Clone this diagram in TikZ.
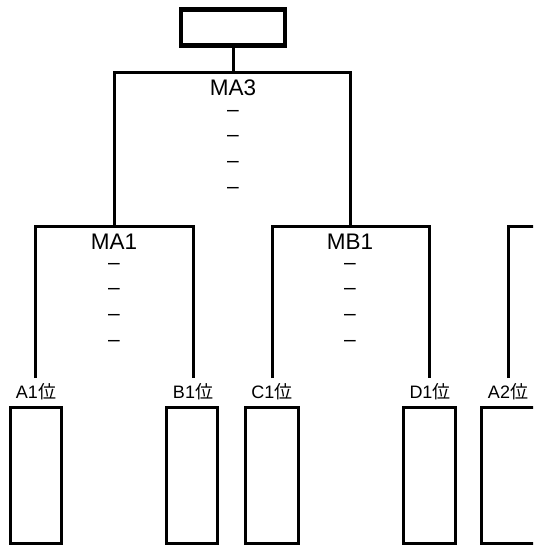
\documentclass[tikz,border=0pt]{standalone}
\usepackage{fontspec}
\setmainfont{Liberation Sans}
\newfontfamily\jpfont{Noto Sans CJK JP}
\begin{document}
\begin{tikzpicture}[x=1pt,y=-1pt,
  line/.style={line width=3pt},
  topbox/.style={draw,line width=4.5pt,minimum width=104pt,minimum height=36pt,inner sep=0pt},
  slot/.style={draw,line width=3pt,minimum height=136pt,inner sep=0pt},
  matchlbl/.style={font=\fontsize{22.5}{26}\selectfont,inner sep=0pt,anchor=base},
  dashes/.style={font=\fontsize{21}{25.7}\selectfont,inner sep=0pt,anchor=north,align=center},
  poslbl/.style={font=\fontsize{18}{20}\selectfont,inner sep=0pt}]
\useasboundingbox (0,0) rectangle (533,546);
\clip (0,0) rectangle (533,546);
% top box
\node[topbox] (top) at (233,27.5) {};
% level coordinates
\coordinate (j3) at (233,72);
\coordinate (l3) at (114,72);
\coordinate (r3) at (350,72);
\coordinate (ma1top) at (114,226);
\coordinate (mb1top) at (350,226);
\coordinate (ma1l) at (35,226);
\coordinate (ma1r) at (193,226);
\coordinate (mb1l) at (272,226);
\coordinate (mb1r) at (429,226);
\coordinate (xr) at (508,226);
\coordinate (xe) at (545,226);
\coordinate (a1e) at (35,378);
\coordinate (b1e) at (193,378);
\coordinate (c1e) at (272,378);
\coordinate (d1e) at (429,378);
\coordinate (a2e) at (508,378);
% connectors
\draw[line] (top.south) -- (j3);
\draw[line,line join=miter] (ma1top) -- (l3) -- (r3) -- (mb1top);
\draw[line,line join=miter] (a1e) -- (ma1l) -- (ma1r) -- (b1e);
\draw[line,line join=miter] (c1e) -- (mb1l) -- (mb1r) -- (d1e);
\draw[line,line join=miter] (a2e) -- (xr) -- (xe);
% match labels
\node[matchlbl] (ma3) at (233,95.5) {MA3};
\node[dashes] (ma3d) at (233,110) {–\\–\\–\\–};
\node[matchlbl] (ma1) at (114,249.5) {MA1};
\node[dashes] (ma1d) at (114,263) {–\\–\\–\\–};
\node[matchlbl] (mb1) at (350,249.5) {MB1};
\node[dashes] (mb1d) at (350,263) {–\\–\\–\\–};
% position labels
\node[poslbl] (a1l) at (36,392) {A1{\jpfont 位}};
\node[poslbl] (b1l) at (193,392) {B1{\jpfont 位}};
\node[poslbl] (c1l) at (272,392) {C1{\jpfont 位}};
\node[poslbl] (d1l) at (430,392) {D1{\jpfont 位}};
\node[poslbl] (a2l) at (508,392) {A2{\jpfont 位}};
% slots
\node[slot,minimum width=51pt] (a1) at (36,475) {};
\node[slot,minimum width=51pt] (b1) at (192,475) {};
\node[slot,minimum width=53pt] (c1) at (272,475) {};
\node[slot,minimum width=52pt] (d1) at (429.5,475) {};
\node[slot,minimum width=80pt] (a2) at (521,475) {};
\end{tikzpicture}
\end{document}
